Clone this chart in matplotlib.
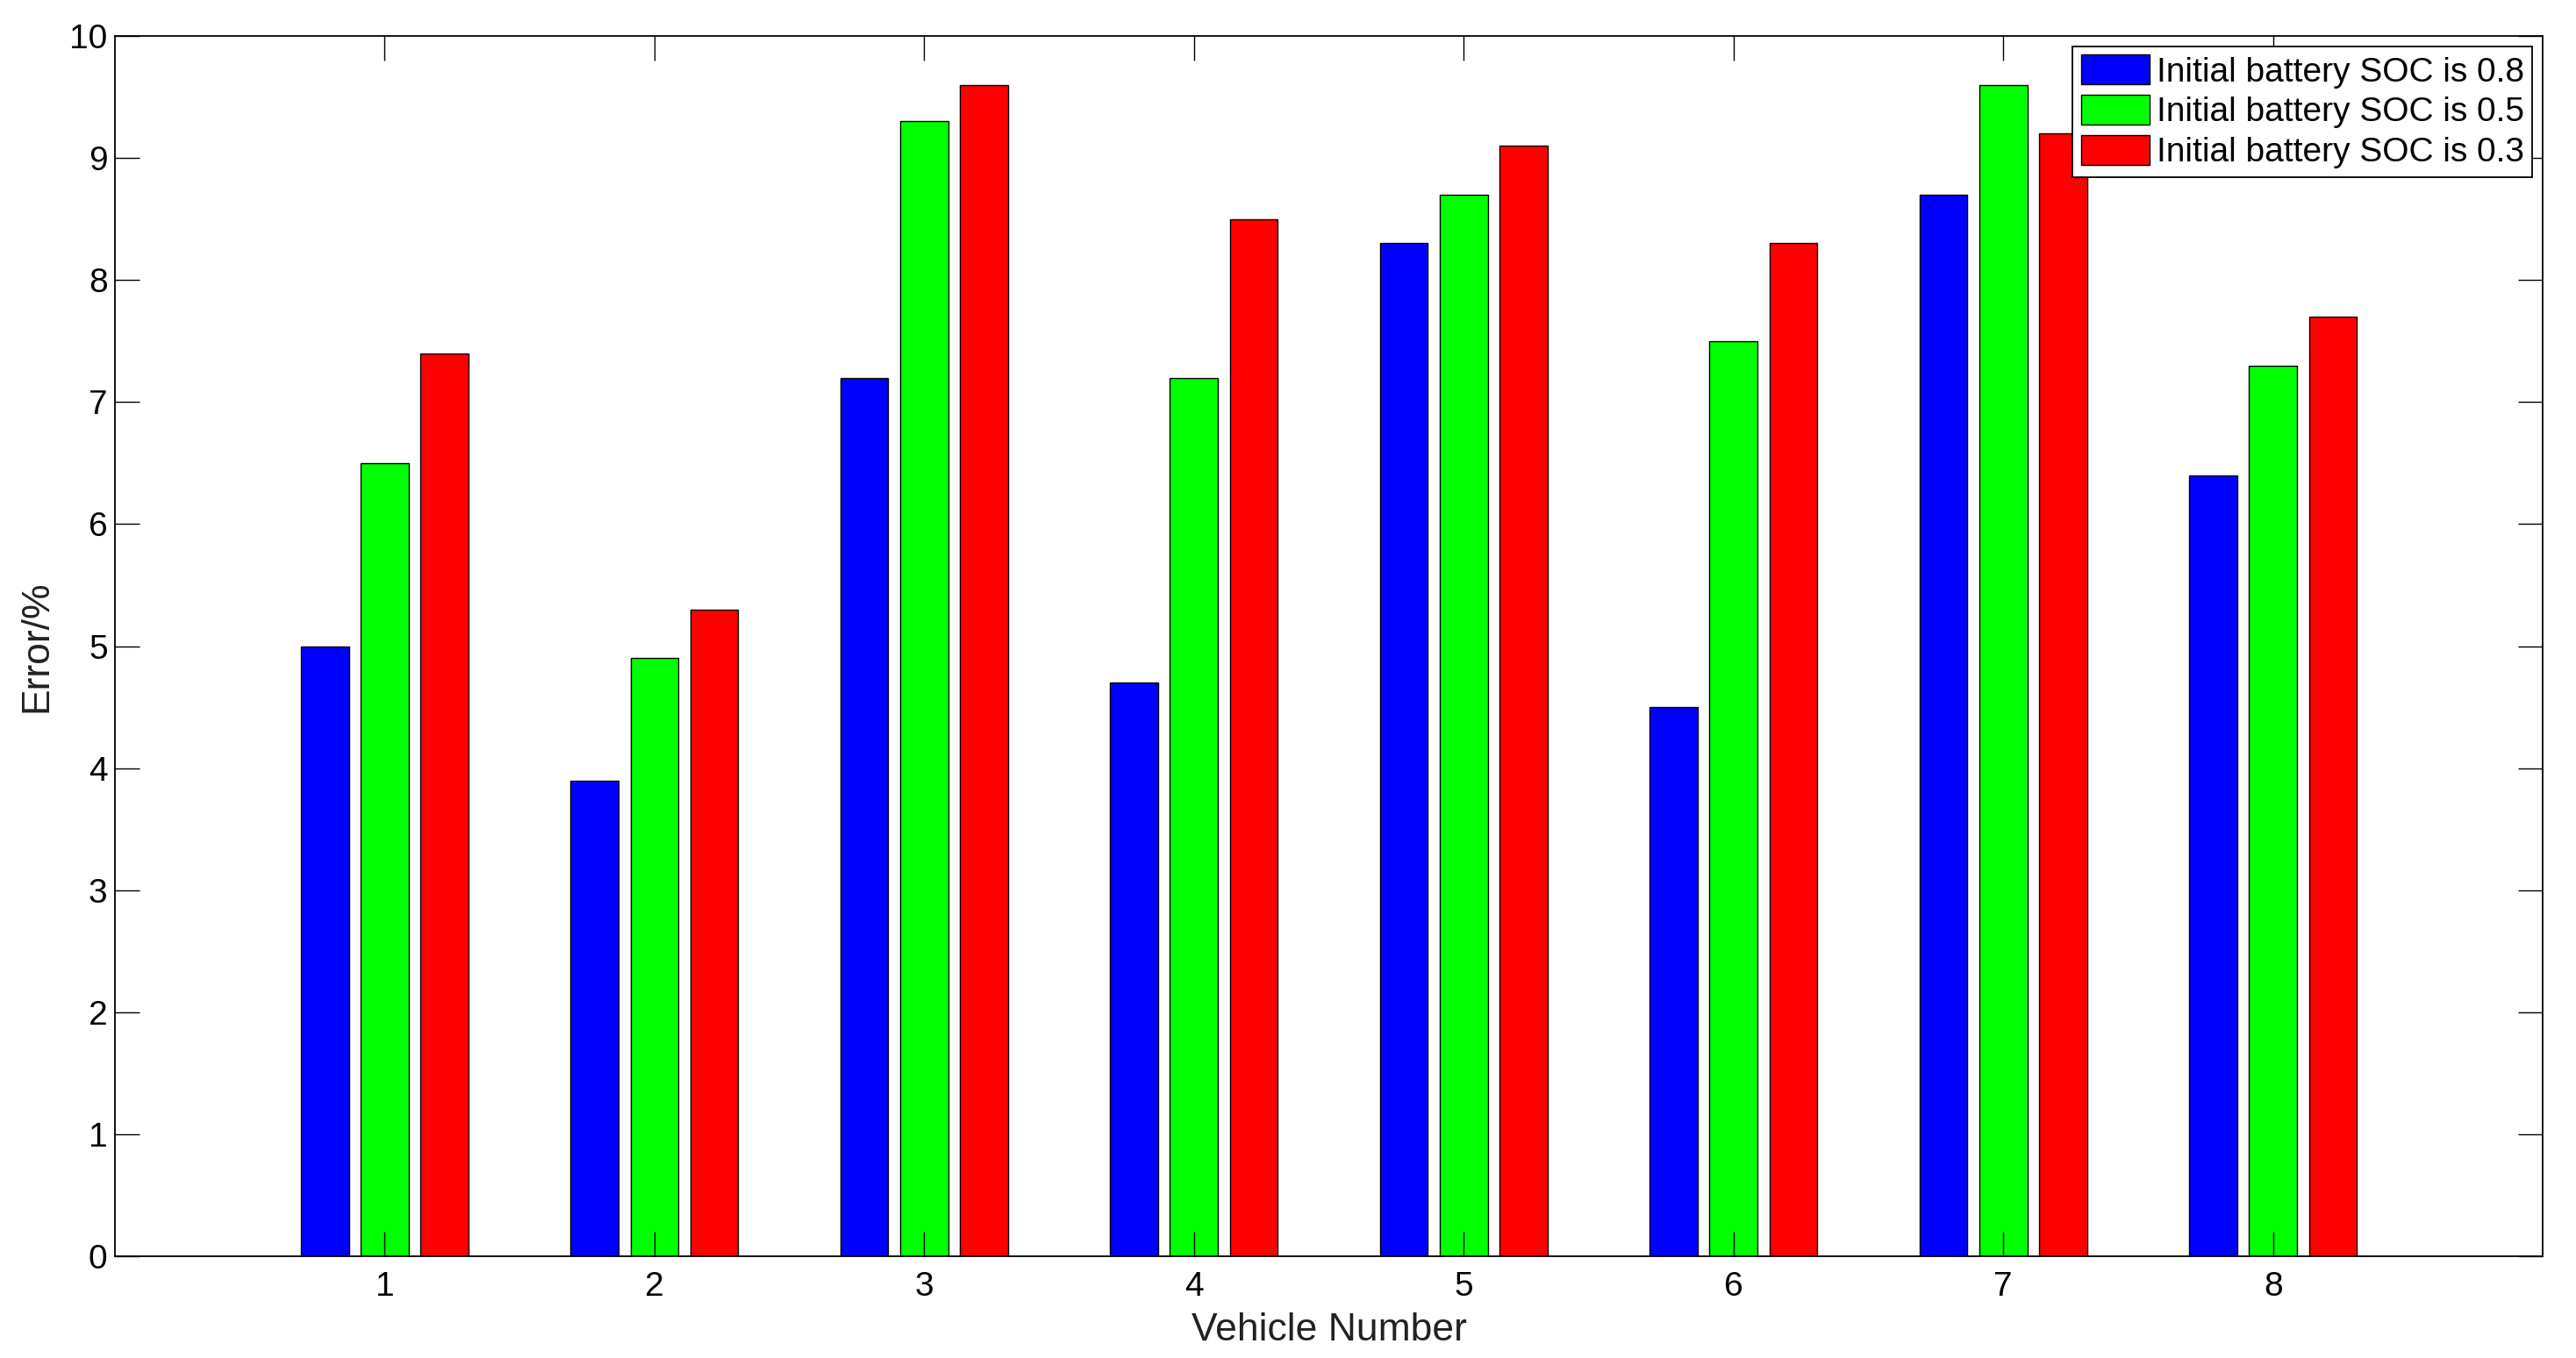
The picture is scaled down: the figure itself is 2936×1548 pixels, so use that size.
import numpy as np
import matplotlib.pyplot as plt

plt.rcParams['font.family'] = ['Liberation Sans', 'DejaVu Sans']

vehicles = [1, 2, 3, 4, 5, 6, 7, 8]
soc_08 = [5.0, 3.9, 7.2, 4.7, 8.3, 4.5, 8.7, 6.4]
soc_05 = [6.5, 4.9, 9.3, 7.2, 8.7, 7.5, 9.6, 7.3]
soc_03 = [7.4, 5.3, 9.6, 8.5, 9.1, 8.3, 9.2, 7.7]
labels = ['Initial battery SOC is 0.8', 'Initial battery SOC is 0.5',
          'Initial battery SOC is 0.3']
colors = ['#0000ff', '#00ff00', '#ff0000']

fig = plt.figure(figsize=(29.36, 15.48), dpi=100)
ax = fig.add_axes([0.0446, 0.0749, 0.9425, 0.8986])

x = np.array(vehicles)
offset = 0.222
width = 0.178
for i, (vals, lab, c) in enumerate(zip([soc_08, soc_05, soc_03], labels, colors)):
    ax.bar(x + (i - 1) * offset, vals, width, color=c, edgecolor='black',
           linewidth=1.0, label=lab)

ax.set_xlim(0, 9)
ax.set_ylim(0, 10)
ax.set_xticks(vehicles)
ax.set_yticks(range(0, 11))
ax.tick_params(direction='in', top=True, right=True, length=20, width=1,
               labelsize=28)
ax.tick_params(axis='x', pad=12)
ax.tick_params(axis='y', pad=6)
for s in ax.spines.values():
    s.set_linewidth(1.3)

ax.set_xlabel('Vehicle Number', fontsize=32, labelpad=8, color='#222222')
ax.set_ylabel('Error/%', fontsize=32, labelpad=12, color='#222222')

leg = ax.legend(loc='upper right', fontsize=28, frameon=True, fancybox=False,
                borderaxespad=0.3, handlelength=2.0, handleheight=0.95,
                handletextpad=0.2, labelspacing=0.2, borderpad=0.25)
leg.get_frame().set_edgecolor('black')
leg.get_frame().set_linewidth(1.3)
leg.get_frame().set_alpha(1)

fig.savefig('out.png', dpi=100)
